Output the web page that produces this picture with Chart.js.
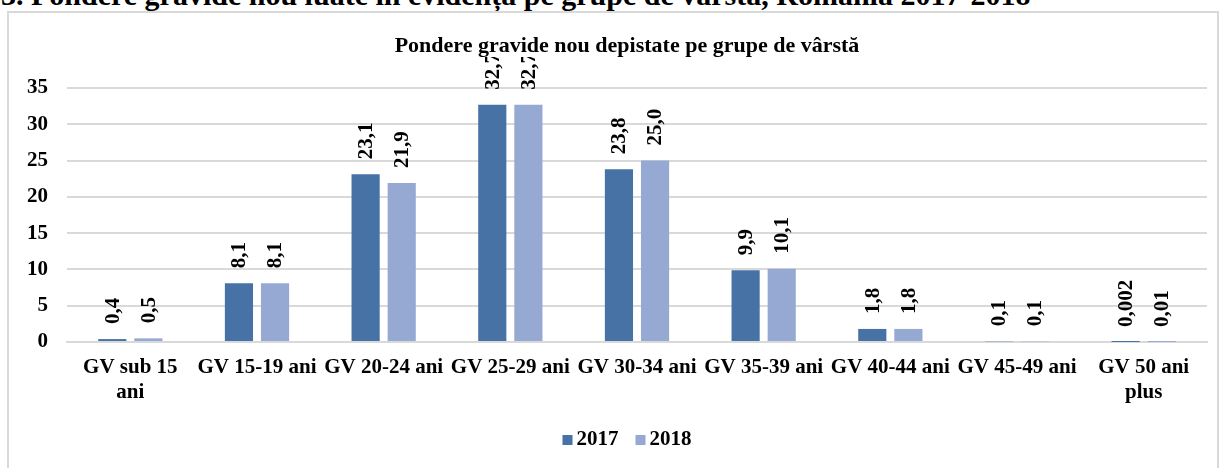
<!DOCTYPE html>
<html>
<head>
<meta charset="utf-8">
<script src="https://cdn.jsdelivr.net/npm/chart.js@4"></script>
<style>
  body { margin: 0; background: #fff; overflow: hidden; }
  #heading {
    position: absolute; left: 1px; top: -20px; white-space: nowrap;
    font: bold 30px "Liberation Serif", "Times New Roman", serif; line-height: 30px; color: #000;
  }
  #box {
    position: absolute; left: 7px; top: 11px; width: 1212px; height: 470px;
    border: 2px solid #d9d9d9; box-sizing: border-box;
  }
  #wrap { position: absolute; left: 0; top: 0; width: 1223px; height: 468px; }
</style>
</head>
<body>
<div id="heading">3. Pondere gravide nou luate în evidență pe grupe de vârstă, România 2017-2018</div>
<div id="box"></div>
<div id="wrap"><canvas id="chart"></canvas></div>
<script>
// grupe de varsta
const categories = [
    ['GV sub 15', 'ani'],
    'GV 15-19 ani',
    'GV 20-24 ani',
    'GV 25-29 ani',
    'GV 30-34 ani',
    'GV 35-39 ani',
    'GV 40-44 ani',
    'GV 45-49 ani',
    ['GV 50 ani', 'plus']
];
const values2017 = [0.4, 8.1, 23.1, 32.7, 23.8, 9.9, 1.8, 0.1, 0.002];
const values2018 = [0.5, 8.1, 21.9, 32.7, 25.0, 10.1, 1.8, 0.1, 0.01];
const yTicks = [0, 5, 10, 15, 20, 25, 30, 35];

const chartTitle = 'Pondere gravide nou depistate pe grupe de vârstă';
const colors = ['#4672a6', '#95a9d2'];

const serif = '"Liberation Serif", "Times New Roman", serif';

// format romanesc: virgula zecimala
const fmt = (v) => (v >= 0.1 ? v.toFixed(1) : String(v)).replace('.', ',');

// etichete verticale deasupra barelor + titlu + legenda
const decorations = {
    id: 'decorations',
    afterDatasetsDraw(chart) {
        const ctx = chart.ctx;
        ctx.save();
        ctx.beginPath();
        ctx.rect(0, 57, chart.width, chart.height);
        ctx.clip();
        ctx.font = 'bold 21px ' + serif;
        ctx.fillStyle = '#000';
        ctx.textAlign = 'left';
        ctx.textBaseline = 'middle';
        chart.data.datasets.forEach((ds, i) => {
            chart.getDatasetMeta(i).data.forEach((bar, j) => {
                ctx.save();
                ctx.translate(bar.x, bar.y - 15);
                ctx.rotate(-Math.PI / 2);
                ctx.fillText(fmt(ds.data[j]), 0, 1);
                ctx.restore();
            });
        });
        ctx.restore();
    },
    afterDraw(chart) {
        const ctx = chart.ctx;
        const cx = 627;
        ctx.save();
        ctx.fillStyle = '#000';
        ctx.font = 'bold 22px ' + serif;
        ctx.textAlign = 'center';
        ctx.textBaseline = 'alphabetic';
        ctx.fillText(chartTitle, cx, 52);

        // legenda
        ctx.font = 'bold 21px ' + serif;
        ctx.textAlign = 'left';
        ctx.textBaseline = 'middle';
        const items = chart.data.datasets.map(ds => ({ text: ds.label, color: ds.backgroundColor, w: ctx.measureText(ds.label).width }));
        const total = items.reduce((s, it) => s + 14 + it.w, 0) + 17 * (items.length - 1);
        let x = cx - total / 2;
        const y = 440;
        items.forEach(it => {
            ctx.fillStyle = it.color;
            ctx.fillRect(x, y - 5, 10, 10);
            ctx.fillStyle = '#000';
            ctx.fillText(it.text, x + 14, y);
            x += 14 + it.w + 17;
        });
        ctx.restore();
    }
};

const ctx = document.getElementById('chart').getContext('2d');
new Chart(ctx, {
    type: 'bar',
    data: {
        labels: categories,
        datasets: [
            {
                label: '2017',
                data: values2017,
                backgroundColor: colors[0],
                categoryPercentage: 0.57,
                barPercentage: 0.78
            },
            {
                label: '2018',
                data: values2018,
                backgroundColor: colors[1],
                categoryPercentage: 0.57,
                barPercentage: 0.78
            }
        ]
    },
    options: {
        responsive: true,
        maintainAspectRatio: false,
        animation: false,
        layout: { padding: { left: 0, right: 16, top: 88, bottom: 56 } },
        plugins: {
            title: { display: false },
            legend: { display: false },
            tooltip: { enabled: false }
        },
        scales: {
            x: {
                afterFit: (s) => { s.height = 70; },
                grid: { display: false, drawTicks: false },
                border: { color: '#d9d9d9', width: 2 },
                ticks: {
                    color: '#000',
                    maxRotation: 0,
                    autoSkip: false,
                    padding: 13,
                    font: { family: serif, size: 21, weight: 'bold', lineHeight: 1.2 }
                }
            },
            y: {
                min: 0,
                max: 35,
                afterFit: (s) => { s.width = 67; },
                afterBuildTicks: (s) => { s.ticks = yTicks.map(v => ({ value: v })); },
                grid: { color: '#d9d9d9', lineWidth: 2, drawTicks: false },
                border: { display: false },
                ticks: {
                    color: '#000',
                    padding: 19,
                    font: { family: serif, size: 21, weight: 'bold' }
                }
            }
        }
    },
    plugins: [decorations]
});
</script>
</body>
</html>
